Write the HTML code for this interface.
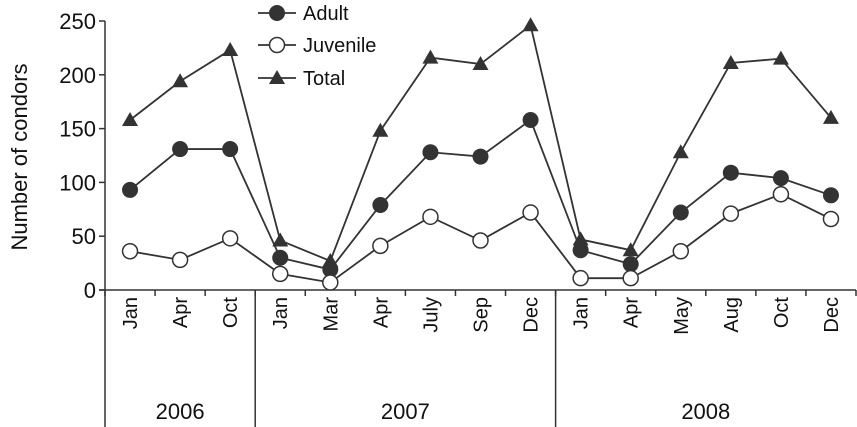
<!DOCTYPE html>
<html><head><meta charset="utf-8"><style>
body{margin:0;background:#fff}
svg{display:block;font-family:"Liberation Sans",Arial,sans-serif}
</style></head><body>
<svg id="chart" width="857" height="427" viewBox="0 0 857 427">
<g id="axes"></g>
<g id="series"></g>
<g id="legend"></g>
</svg>
<script>
const months = ["Jan","Apr","Oct","Jan","Mar","Apr","July","Sep","Dec","Jan","Apr","May","Aug","Oct","Dec"];
const years = ["2006","2007","2008"];
const yearCounts = [3,6,6];
const adult = [93,131,131,30,19,79,128,124,158,37,24,72,109,104,88];
const juvenile = [36,28,48,15,7,41,68,46,72,11,11,36,71,89,66];
const total = [158,194,223,46,27,148,216,210,246,47,37,128,211,215,160];
const yTicks = [0,50,100,150,200,250];

const NS="http://www.w3.org/2000/svg";
const X0=105, X1=856, Y0=290, Y250=21;
const step=(X1-X0)/months.length;
const xc=i=>X0+step*(i+0.5);
const y=v=>Y0-(Y0-Y250)*v/250;
const C="#333";
function mk(tag,attrs,parent){const e=document.createElementNS(NS,tag);for(const k in attrs)e.setAttribute(k,attrs[k]);parent.appendChild(e);return e;}
const ax=document.getElementById('axes');
let e;
e=mk('line',{x1:X0,y1:Y250,x2:X0,y2:427,stroke:C,'stroke-width':1.5},ax);


e=mk('line',{x1:X0-6,y1:Y0,x2:X1,y2:Y0,stroke:C,'stroke-width':1.5},ax);


yTicks.forEach(t=>{
  mk('line',{x1:X0-6,y1:y(t),x2:X0,y2:y(t),stroke:C,'stroke-width':1.5},ax);
  const tx=mk('text',{x:96,y:y(t)+8,'text-anchor':'end','font-size':22,fill:'#111'},ax);
  tx.textContent=t;
  
  
});
const yl=mk('text',{x:0,y:0,transform:'translate(27,157) rotate(-90)','text-anchor':'middle','font-size':22,fill:'#111'},ax);
yl.textContent='Number of condors';


for(let i=0;i<=months.length;i++){
  const x=X0+step*i;
  mk('line',{x1:x,y1:Y0,x2:x,y2:Y0+6,stroke:C,'stroke-width':1.5},ax);
}
months.forEach((m,i)=>{
  const t=mk('text',{x:0,y:0,transform:`translate(${xc(i)+7},297) rotate(-90)`,'text-anchor':'end','font-size':20,fill:'#111'},ax);
  t.textContent=m;
  
  
});
let start=0;
years.forEach((yr,j)=>{
  const n=yearCounts[j];
  const xs=X0+step*start, xe=X0+step*(start+n);
  if(start>0){mk('line',{x1:xs,y1:Y0,x2:xs,y2:427,stroke:C,'stroke-width':1.5},ax);}
  const t=mk('text',{x:(xs+xe)/2,y:419,'text-anchor':'middle','font-size':22,fill:'#111'},ax);
  t.textContent=yr;
  
  
  start+=n;
});
const sg=document.getElementById('series');
function marker(type,cx,cy,p,name){
  let m;
  if(type==='tri') m=mk('polygon',{points:`${cx},${cy-8} ${cx-8},${cy+6} ${cx+8},${cy+6}`,fill:C},p);
  else if(type==='open') m=mk('circle',{cx,cy,r:7.5,fill:'#fff',stroke:C,'stroke-width':1.5},p);
  else m=mk('circle',{cx,cy,r:8,fill:C},p);
  
  
}
function drawSeries(data,type,name){
  const g=mk('g',{},sg);
  
  
  const pl=mk('polyline',{points:data.map((v,i)=>xc(i)+','+y(v)).join(' '),fill:'none',stroke:C,'stroke-width':1.8},g);
  
  
  data.forEach((v,i)=>marker(type,xc(i),y(v),g,name+'-point'));
}
drawSeries(total,'tri','total');
drawSeries(adult,'fill','adult');
drawSeries(juvenile,'open','juvenile');
const lg=document.getElementById('legend');
[["Adult",'fill',13],["Juvenile",'open',45],["Total",'tri',78]].forEach(([lab,type,ly])=>{
  const g=mk('g',{},lg);
  
  
  mk('line',{x1:258,y1:ly,x2:296,y2:ly,stroke:C,'stroke-width':1.8},g);
  marker(type,277,ly,g,'legend-marker');
  const t=mk('text',{x:303,y:ly+7,'font-size':20,fill:'#111'},g);
  t.textContent=lab;
  
  
});
</script>
</body></html>
